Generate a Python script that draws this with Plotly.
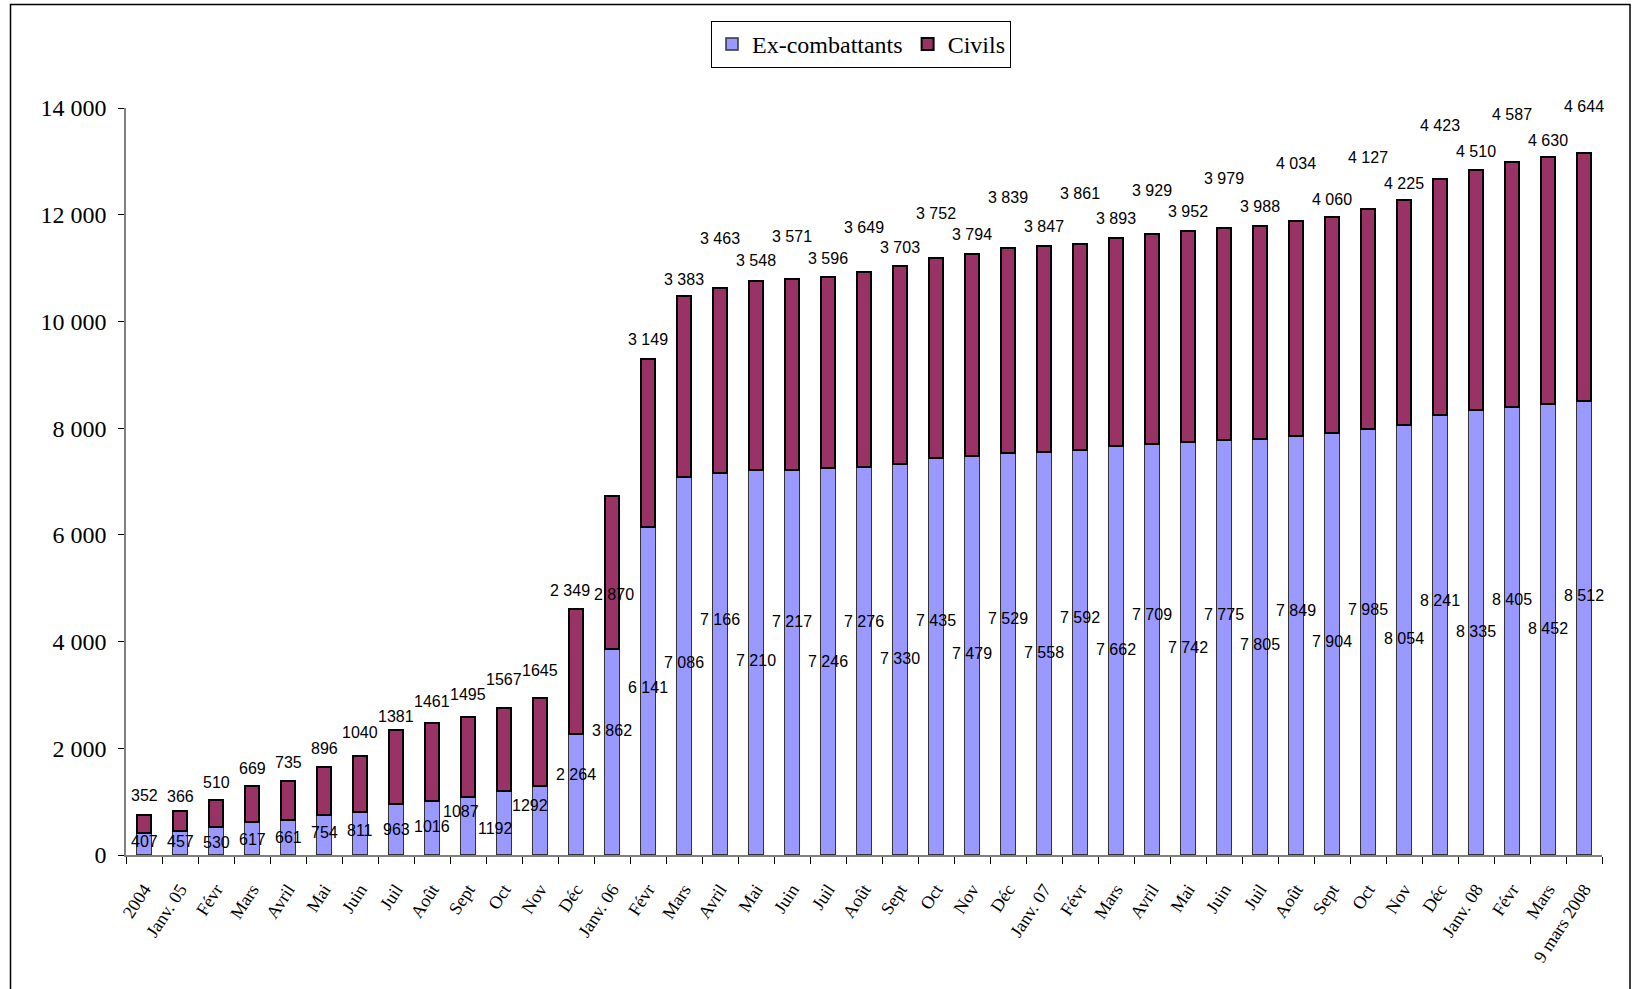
import plotly.graph_objects as go

# ---- data ----
months = ["2004", "Janv. 05", "Févr", "Mars", "Avril", "Mai", "Juin", "Juil", "Août", "Sept", "Oct", "Nov", "Déc",
          "Janv. 06", "Févr", "Mars", "Avril", "Mai", "Juin", "Juil", "Août", "Sept", "Oct", "Nov", "Déc",
          "Janv. 07", "Févr", "Mars", "Avril", "Mai", "Juin", "Juil", "Août", "Sept", "Oct", "Nov", "Déc",
          "Janv. 08", "Févr", "Mars", "9 mars 2008"]
ex_combattants = [407, 457, 530, 617, 661, 754, 811, 963, 1016, 1087, 1192, 1292, 2264, 3862, 6141, 7086, 7166,
                  7210, 7217, 7246, 7276, 7330, 7435, 7479, 7529, 7558, 7592, 7662, 7709, 7742, 7775, 7805, 7849,
                  7904, 7985, 8054, 8241, 8335, 8405, 8452, 8512]
civils = [352, 366, 510, 669, 735, 896, 1040, 1381, 1461, 1495, 1567, 1645, 2349, 2870, 3149, 3383, 3463, 3548,
          3571, 3596, 3649, 3703, 3752, 3794, 3839, 3847, 3861, 3893, 3929, 3952, 3979, 3988, 4034, 4060, 4127,
          4225, 4423, 4510, 4587, 4630, 4644]
y_ticks = [0, 2000, 4000, 6000, 8000, 10000, 12000, 14000]

# ---- label offsets (pixels, positive = up / right) ----
civ_shift = [19, 15, 17, 18, 18, 18, 24, 13, 21, 23, 28, 28, 18, -99, 20, 17, 49, 20, 43, 18, 45, 19, 45, 19,
             51, 20, 50, 20, 44, 20, 49, 19, 57, 17, 51, 16, 54, 18, 47, 16, 47]
ex_shift = [3, 1, -2, -1, 0, 2, 3, 0, 1, 15, -5, 15, 20, 21, 4, 3, 44, 2, 41, 0, 39, 1, 36, 2, 36, 1, 35, 1,
            35, 1, 33, 2, 35, 3, 32, 2, 35, 1, 31, 1, 32]
civ_xshift = {12: -6, 13: 2}
ex_xshift = {9: -7, 10: -9, 11: -10}


def fmt(v, i):
    return f"{v:,}".replace(",", " ") if i >= 12 else str(v)


x = list(range(len(months)))
totals = [a + b for a, b in zip(ex_combattants, civils)]

fig = go.Figure()
fig.add_trace(go.Bar(x=x, y=ex_combattants, name="Ex-combattants",
                     marker=dict(color="#9999FF", line=dict(color="#333333", width=1.5))))
fig.add_trace(go.Bar(x=x, y=civils, name="Civils",
                     marker=dict(color="#993366", line=dict(color="#000000", width=2))))

ann = []
lab_font = dict(family="Liberation Sans, Arial, sans-serif", size=16, color="black")
for i in x:
    ann.append(dict(x=i, y=totals[i], text=fmt(civils[i], i), showarrow=False, yshift=civ_shift[i],
                    xshift=civ_xshift.get(i, 0), xanchor="center", yanchor="middle", font=lab_font))
    ann.append(dict(x=i, y=ex_combattants[i] / 2, text=fmt(ex_combattants[i], i), showarrow=False,
                    yshift=ex_shift[i], xshift=ex_xshift.get(i, 0), xanchor="center", yanchor="middle",
                    font=lab_font))

W, H = 1633, 989
L, R, T, B = 126, 1602, 108, 855


def px(p):
    return (p - L) / (R - L)


def py(p):
    return (B - p) / (B - T)


shapes = [
    # outer frame
    dict(type="rect", xref="paper", yref="paper", x0=px(10.5), x1=px(1630), y0=py(1000), y1=py(4.5),
         line=dict(color="black", width=1.5), fillcolor="rgba(0,0,0,0)", layer="below"),
    # legend shadow
    dict(type="rect", xref="paper", yref="paper", x0=px(723), x1=px(1005), y0=py(68), y1=py(24),
         line=dict(width=0), fillcolor="#808080", layer="below"),
]

serif = "Liberation Serif, Times New Roman, serif"
fig.update_layout(
    width=W, height=H,
    margin=dict(l=L, r=W - R, t=T, b=H - B),
    paper_bgcolor="white", plot_bgcolor="white",
    barmode="stack", bargap=0.59,
    separators=", ",
    showlegend=True,
    legend=dict(orientation="h", x=px(861), y=py(21), xanchor="center", yanchor="top",
                traceorder="normal",
                bgcolor="white", bordercolor="black", borderwidth=1,
                font=dict(family=serif, size=24, color="black"),
                itemwidth=30, tracegroupgap=0),
    annotations=ann,
    shapes=shapes,
    xaxis=dict(range=[-0.5, len(months) - 0.5], tickmode="array", tickvals=x, ticktext=months,
               tickangle=-57, ticks="", showgrid=False, zeroline=False, ticklabelstandoff=15,
               showline=True, linecolor="#808080", linewidth=1.5,
               tickfont=dict(family=serif, size=18, color="black"),
               minor=dict(tickmode="array", tickvals=[i - 0.5 for i in range(len(months) + 1)],
                          ticks="outside", ticklen=7, tickcolor="black", tickwidth=1, showgrid=False)),
    yaxis=dict(range=[0, 14000], tickmode="array", tickvals=y_ticks, tickformat=",d",
               ticks="outside", ticklen=6, tickcolor="black", showgrid=False, zeroline=False,
               showline=True, linecolor="#808080", linewidth=1.5, ticklabelstandoff=7,
               tickfont=dict(family=serif, size=24, color="black")),
)

fig.write_html("out.html", config={"displayModeBar": False},
               post_script="document.body.style.margin='0px';document.body.style.overflow='hidden';")
